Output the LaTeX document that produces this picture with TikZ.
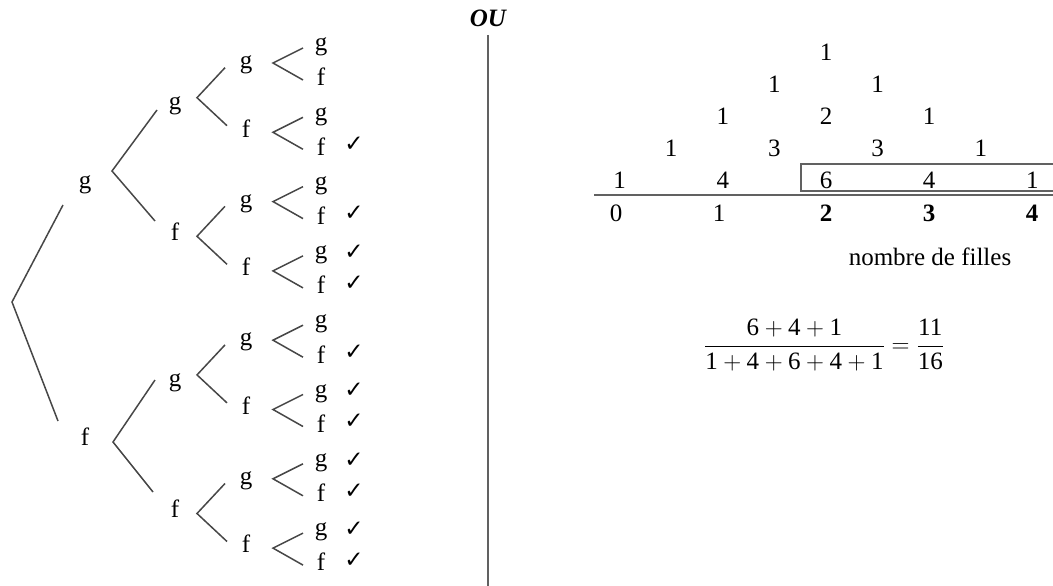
\documentclass[tikz,border=0pt]{standalone}
\usepackage{amsmath}
\usepackage{fontspec}
\setmainfont{Liberation Serif}
\newfontfamily\symfont{DejaVu Sans}
\newcommand\dg[1]{\text{#1}}
\tikzset{
  br/.style={line width=1.5pt, draw=black!72, line join=miter},
  rule/.style={line width=1.5pt, draw=black!62},
  lab/.style={inner sep=0pt, font=\fontsize{25}{29}\selectfont},
  num/.style={inner sep=0pt, font=\fontsize{25}{29}\selectfont},
  chk/.style={inner sep=0pt, font=\symfont\fontsize{23}{26}\selectfont},
}
\begin{document}
\begin{tikzpicture}[x=1pt,y=-1pt]
\useasboundingbox (0,0) rectangle (1053,586);

% ---------------- tree: level 3 and leaves ----------------
\foreach \k in {0,...,7}{
  \pgfmathsetmacro\c{63+69.3*\k}
  \pgfmathtruncatemacro\ev{mod(\k,2)}
  \pgfmathsetmacro\yl{\c+2-6*\ev}
  \node[lab] (t3-\k) at (246,\yl) {\ifnum\ev=0 g\else f\fi};
  \coordinate (v3-\k) at (273,\c);
  \coordinate (a3-\k) at (303,\c-15);
  \coordinate (b3-\k) at (303,\c+17);
  \draw[br] (a3-\k) -- (v3-\k) -- (b3-\k);
  \node[lab] (lg-\k) at (321,\c-16) {g};
  \node[lab] (lf-\k) at (321,\c+14) {f};
  \ifnum\k>0 \node[chk] (cf-\k) at (354,\c+12) {✓};\fi
  \ifnum\k=3 \node[chk] (cg-\k) at (354,\c-19) {✓};\fi
  \ifnum\k>4 \node[chk] (cg-\k) at (354,\c-19) {✓};\fi
}

% ---------------- level 2 ----------------
\foreach \j in {0,...,3}{
  \pgfmathsetmacro\v{97.7+138.6*\j}
  \pgfmathtruncatemacro\ev{mod(\j,2)}
  \pgfmathsetmacro\yl{\v+8-13*\ev}
  \node[lab] (t2-\j) at (175,\yl) {\ifnum\ev=0 g\else f\fi};
  \coordinate (v2-\j) at (197,\v);
  \coordinate (a2-\j) at (225,\v-30);
  \coordinate (b2-\j) at (227,\v+28);
  \draw[br] (a2-\j) -- (v2-\j) -- (b2-\j);
}

% ---------------- level 1 ----------------
\node[lab] (t1-g) at (85,185) {g};
\coordinate (v1-g) at (112,171);
\coordinate (a1-g) at (157,110);
\coordinate (b1-g) at (155,221);
\draw[br] (a1-g) -- (v1-g) -- (b1-g);

\node[lab] (t1-f) at (85,437) {f};
\coordinate (v1-f) at (113,442);
\coordinate (a1-f) at (155,380);
\coordinate (b1-f) at (153,492);
\draw[br] (a1-f) -- (v1-f) -- (b1-f);

% ---------------- root ----------------
\coordinate (v0) at (12,302);
\coordinate (a0) at (63,205);
\coordinate (b0) at (58,421);
\draw[br] (a0) -- (v0) -- (b0);

% ---------------- separator ----------------
\node[inner sep=0pt, font=\fontsize{25}{29}\selectfont\bfseries\itshape] (ou) at (488,18) {OU};
\coordinate (sepT) at (488,35);
\coordinate (sepB) at (488,586);
\draw[rule] (sepT) -- (sepB);

% ---------------- Pascal triangle ----------------
\foreach \r/\k/\val in {0/0/1, 1/0/1, 1/1/1, 2/0/1, 2/1/2, 2/2/1,
                       3/0/1, 3/1/3, 3/2/3, 3/3/1,
                       4/0/1, 4/1/4, 4/2/6, 4/3/4, 4/4/1}{
  \node[num] (p\r-\k) at ({826+(2*\k-\r)*51.6},{52+32*\r}) {\val};
}
\coordinate (axL) at (594,195);
\coordinate (axR) at (1053,195);
\draw[rule] (axL) -- (axR);

\coordinate (bxA) at (1053,164);
\coordinate (bxB) at (801,164);
\coordinate (bxC) at (801,191);
\coordinate (bxD) at (1053,191);
\draw[rule] (bxA) -- (bxB) -- (bxC) -- (bxD);

\node[num] (n0) at (616,213) {0};
\node[num] (n1) at (719,213) {1};
\node[num] (n2) at (826,213) {\textbf{2}};
\node[num] (n3) at (929,213) {\textbf{3}};
\node[num] (n4) at (1032,213) {\textbf{4}};

\node[num] (legend) at (930,257) {nombre de filles};

\node[num] (frac) at (824,345) {$\dfrac{\dg6+\dg4+\dg1}{\dg1+\dg4+\dg6+\dg4+\dg1}=\dfrac{\dg{11}}{\dg{16}}$};
\end{tikzpicture}
\end{document}
